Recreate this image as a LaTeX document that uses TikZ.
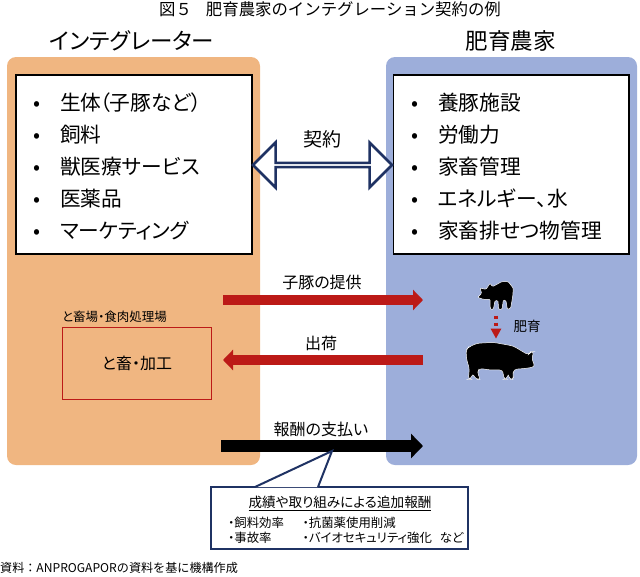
\documentclass[tikz,border=0pt]{standalone}
\usepackage{fontspec}
\setmainfont[RawFeature=+palt]{Noto Sans CJK JP}
\newfontfamily\plainjp{Noto Sans CJK JP}
\usetikzlibrary{arrows.meta,shapes.arrows,positioning}
\definecolor{panelorange}{HTML}{F0B681}
\definecolor{panelblue}{HTML}{9DAEDA}
\definecolor{navy}{HTML}{1F3263}
\definecolor{darkred}{HTML}{BC1A17}
\tikzset{
  title/.style   ={font=\plainjp\fontsize{16.4}{18}\selectfont, inner sep=0pt},
  heading/.style ={font=\fontsize{22.5}{25}\selectfont, inner sep=0pt},
  panel/.style   ={rounded corners=9pt, inner sep=0pt},
  listbox/.style ={draw=black, line width=1.3pt, fill=white, inner sep=0pt},
  item/.style    ={font=\fontsize{20.7}{23}\selectfont, inner sep=0pt, anchor=west},
  flowlabel/.style={font=\fontsize{16}{18}\selectfont, inner sep=0pt},
  small/.style   ={font=\fontsize{12.4}{14}\selectfont, inner sep=0pt, anchor=west},
  redflow/.style ={line width=10pt, darkred, -{Triangle[length=10pt,width=20pt]}},
  blackflow/.style={line width=12pt, black, -{Triangle[length=12pt,width=24pt]}},
}
\begin{document}
\begin{tikzpicture}[x=1pt,y=-1pt]
\useasboundingbox (0,0) rectangle (640,576);

\node[title] (fig) at (330,9) {図５\hspace{14pt}肥育農家のインテグレーション契約の例};
\node[heading] (headl) at (132,41) {インテグレーター};
\node[heading] (headr) at (510.5,41) {肥育農家};

% Panels
\fill[panelorange, panel] (7,57) rectangle (260,465);
\fill[panelblue, panel] (386,57) rectangle (637,465);
\node[listbox, minimum width=236pt, minimum height=179pt] (boxl) at (134,164.5) {};
\node[listbox, minimum width=235.5pt, minimum height=179pt] (boxr) at (511.3,164.5) {};

% Lists
\foreach \i/\txt in {0/生体\hspace{-2pt}（子豚など）,1/飼料,2/獣医療サービス,3/医薬品,4/マーケティング}
  \node[item] (itl\i) at (33,{103+31.8*\i}) {\makebox[27pt][l]{•}\txt};
\foreach \i/\txt in {0/養豚施設,1/労働力,2/家畜管理,3/エネルギー、水,4/家畜排せつ物管理}
  \node[item] (itr\i) at (411,{103+31.8*\i}) {\makebox[27pt][l]{•}\txt};

% Contract
\node[flowlabel, font=\fontsize{19}{22}\selectfont] (contract) at (322,139) {契約};
\node[double arrow, draw=navy, fill=white, line width=2.5pt, minimum width=45pt,
  double arrow head extend=11.5pt, minimum height=139pt,
  inner sep=0pt] (darrow) at (322.5,165) {};

% Flows
\coordinate (pigl) at (223,300);
\coordinate (pigr) at (423,300);
\coordinate (shipr) at (423,360);
\coordinate (shipl) at (223,360);
\coordinate (payl) at (221,446);
\coordinate (payr) at (423,446);
\draw[redflow] (pigl) -- (pigr);
\draw[redflow] (shipr) -- (shipl);
\draw[blackflow] (payl) -- (payr);
\node[flowlabel] (lpig) at (322,282) {子豚の提供};
\node[flowlabel] (lship) at (321,343) {出荷};
\node[flowlabel] (lpay) at (321,429) {報酬の支払い};

% Slaughterhouse
\node[font=\fontsize{12.5}{14}\selectfont, inner sep=0pt, anchor=west] (lslaughter) at (62,317) {と畜場・食肉処理場};
\node[draw=darkred, line width=.8pt, minimum width=149pt, minimum height=72pt,
  font=\fontsize{16}{17}\selectfont, inner sep=0pt] (slaughter) at (137,363) {と畜・加工};

% Pigs
\begin{scope}[shift={(440,260)},x=.3333pt,y=-.3333pt]
  \fill[black, draw=white, line width=.5pt, rounded corners=1pt]
    (113,112) -- (125,100) -- (120,84) -- (138,88) -- (150,70) -- (158,80) -- (185,65)
    -- (205,65) -- (220,85) -- (218,110) -- (212,145) -- (202,148) -- (198,122) -- (190,120)
    -- (186,148) -- (176,148) -- (174,122) -- (165,122) -- (160,148) -- (151,148)
    -- (150,118) -- (130,118) -- cycle;
  \fill[black, draw=white, line width=.5pt, rounded corners=3pt]
    (78,270) -- (85,262) -- (110,250) -- (160,247) -- (220,258) -- (265,285) -- (272,275)
    -- (282,275) -- (275,295) -- (285,320) -- (260,325) -- (222,328) -- (218,345) -- (222,358)
    -- (208,358) -- (205,340) -- (200,358) -- (192,358) -- (188,330) -- (150,330) -- (118,325)
    -- (112,340) -- (122,358) -- (108,358) -- (98,340) -- (92,358) -- (85,358) -- (88,325)
    -- (80,300) -- cycle;
  \coordinate (growa) at (168,167);
  \coordinate (growb) at (168,236);
\end{scope}
\draw[darkred, line width=3.5pt, dash pattern=on 3.5pt off 3.5pt,
  -{Triangle[length=10pt,width=10pt]}] (growa) -- (growb);
\node[font=\fontsize{13.5}{15}\selectfont, inner sep=0pt] (lgrow) at (527,326) {肥育};

% Callout
\coordinate (tip) at (332,451);
\coordinate (basel) at (255,487);
\coordinate (baser) at (318,487);
\node[draw=navy, fill=white, line width=2pt, minimum width=257pt, minimum height=62pt,
  inner sep=0pt] (callout) at (339.5,518) {};
\fill[white] (basel) -- (tip) -- (baser) -- cycle;
\draw[navy, line width=2pt] (basel) -- (tip) -- (baser);
\node[inner sep=0pt, font=\fontsize{13.6}{16}\selectfont] (bonus) at (340,503) {\underline{成績や取り組みによる追加報酬}};
\node[small] (cfeed) at (228,523) {・飼料効率};
\node[small] (cacc) at (228,538) {・事故率};
\node[small] (cabx) at (302.5,523) {・抗菌薬使用削減};
\node[small] (cbio) at (302.5,538) {・バイオセキュリティ強化\hspace{8pt}など};

\node[inner sep=0pt, anchor=west, font=\plainjp\fontsize{12.1}{14}\selectfont] (source) at (0,568) {資料：ANPROGAPORの資料を基に機構作成};
\end{tikzpicture}
\end{document}
